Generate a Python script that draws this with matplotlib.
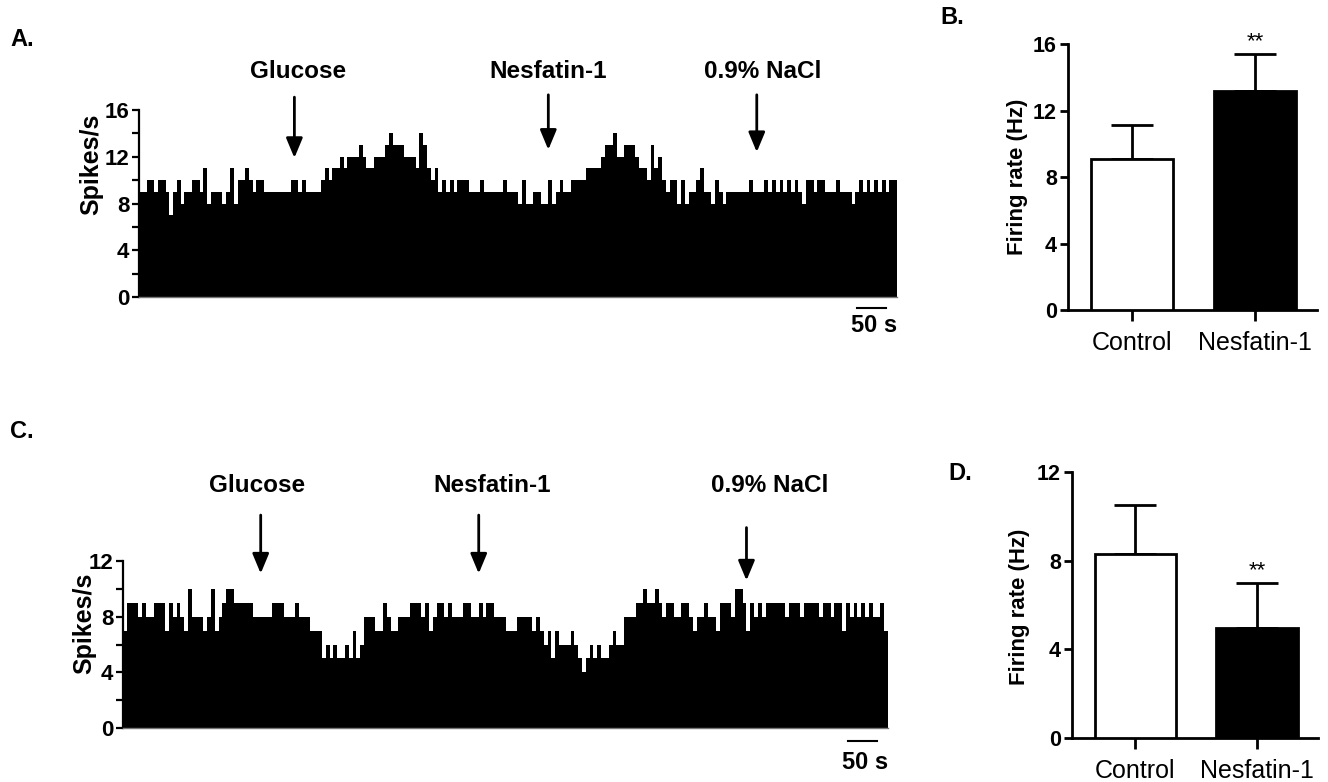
"""Spike-rate histograms (A, C) and mean firing-rate bars (B, D)."""
import numpy as np
import matplotlib
matplotlib.use("Agg")
import matplotlib.pyplot as plt

plt.rcParams["font.family"] = ["Liberation Sans", "DejaVu Sans"]

W, H = 1328, 782

# ---- data ---------------------------------------------------------------
# spikes/s per bin, 200 bins per recording
spikes_a = [
    9, 9, 10, 10, 9, 10, 10, 9, 7, 9,
    10, 8, 9, 9, 10, 10, 9, 11, 8, 9,
    9, 9, 8, 9, 11, 8, 10, 10, 11, 10,
    9, 10, 10, 9, 9, 9, 9, 9, 9, 9,
    10, 10, 9, 10, 9, 9, 9, 9, 10, 11,
    10, 11, 11, 12, 11, 12, 12, 12, 13, 12,
    11, 11, 12, 12, 12, 13, 14, 13, 13, 13,
    12, 12, 12, 11, 14, 13, 11, 10, 11, 9,
    10, 9, 10, 9, 10, 10, 10, 9, 9, 9,
    10, 9, 9, 9, 9, 9, 10, 9, 9, 9,
    8, 10, 8, 8, 9, 9, 8, 8, 10, 8,
    9, 10, 9, 9, 10, 10, 10, 10, 11, 11,
    11, 11, 12, 13, 13, 14, 12, 12, 13, 13,
    13, 12, 11, 11, 10, 13, 11, 12, 10, 9,
    10, 10, 8, 10, 8, 9, 9, 10, 11, 9,
    9, 8, 10, 9, 8, 9, 9, 9, 9, 9,
    9, 10, 9, 9, 9, 10, 9, 10, 9, 10,
    9, 10, 9, 10, 9, 8, 10, 10, 9, 10,
    10, 9, 9, 9, 10, 9, 9, 9, 8, 9,
    10, 9, 10, 9, 10, 9, 10, 9, 10, 10,
]
spikes_c = [
    7, 9, 9, 9, 8, 9, 8, 8, 9, 9,
    9, 7, 9, 8, 9, 8, 7, 10, 8, 8,
    8, 7, 8, 10, 7, 8, 9, 10, 10, 9,
    9, 9, 9, 9, 8, 8, 8, 8, 8, 9,
    9, 9, 8, 8, 8, 9, 8, 8, 8, 7,
    7, 7, 5, 6, 5, 6, 5, 5, 6, 5,
    7, 5, 6, 8, 8, 8, 7, 7, 9, 8,
    7, 7, 8, 8, 8, 9, 9, 9, 8, 9,
    7, 8, 9, 9, 8, 9, 8, 8, 8, 9,
    9, 8, 8, 9, 8, 9, 9, 8, 8, 8,
    7, 7, 7, 8, 8, 8, 8, 7, 8, 7,
    6, 7, 5, 7, 6, 6, 6, 7, 6, 5,
    4, 5, 6, 5, 6, 5, 5, 6, 7, 6,
    6, 8, 8, 8, 9, 9, 10, 9, 9, 10,
    9, 8, 9, 9, 8, 8, 9, 9, 8, 7,
    8, 8, 9, 8, 8, 7, 9, 9, 9, 8,
    10, 10, 9, 7, 9, 8, 9, 8, 9, 9,
    9, 9, 9, 8, 9, 9, 9, 8, 9, 9,
    9, 9, 8, 9, 9, 8, 9, 9, 7, 9,
    8, 9, 8, 9, 8, 9, 8, 8, 9, 7,
]
events = ["Glucose", "Nesfatin-1", "0.9% NaCl"]
event_bins_a = [41, 108, 163]
event_bins_c = [36, 93, 163]

groups = ["Control", "Nesfatin-1"]
rate_b = [9.1, 13.2]
sem_b = [2.0, 2.2]
rate_d = [8.3, 4.95]
sem_d = [2.2, 2.05]
sig = "**"


def px_axes(fig, left, top, right, bottom):
    return fig.add_axes([left / W, 1 - bottom / H, (right - left) / W,
                         (bottom - top) / H])


def trace(ax, spikes, ymax, ev_bins, arrow_y, label_y, label_dx, scale_y):
    n = len(spikes)
    ax.stairs(spikes, np.arange(n + 1), fill=True, color="black", lw=0)
    ax.set_xlim(0, n)
    ax.set_ylim(0, ymax)
    for s in ("top", "right"):
        ax.spines[s].set_visible(False)
    ax.spines["left"].set_linewidth(1.6)
    ax.spines["bottom"].set_linewidth(1.0)
    ax.spines["bottom"].set_color("#777777")
    ax.set_xticks([])
    ax.set_yticks(np.arange(0, ymax + 1, 4))
    ax.set_yticks(np.arange(2, ymax, 4), minor=True)
    ax.tick_params(axis="y", which="both", length=5, width=1.6, pad=2,
                   labelsize=16)
    for t in ax.get_yticklabels():
        t.set_fontweight("bold")
    for name, b, (y0, y1), dx in zip(events, ev_bins, arrow_y, label_dx):
        ax.annotate("", xy=(b, y1), xytext=(b, y0), annotation_clip=False,
                    arrowprops=dict(arrowstyle="-|>,head_width=0.25,head_length=0.6",
                                    mutation_scale=20, lw=2, color="black",
                                    shrinkA=0, shrinkB=0))
        ax.text(b + dx, label_y, name, ha="center", va="center",
                fontsize=17.5, fontweight="bold", clip_on=False)
    # 50 s scale bar
    ax.plot([n - 10.5, n - 3], [scale_y, scale_y], color="black", lw=1.5,
            clip_on=False)
    ax.text(n - 6, scale_y * 2.6, "50 s", ha="center", va="center",
            fontsize=17, fontweight="bold", clip_on=False)


def bars(ax, rates, sems, ymax):
    ax.bar([0, 1], rates, width=0.667, color=["white", "black"],
           edgecolor="black", lw=2, zorder=3)
    ax.errorbar([0, 1], rates, yerr=[[0, 0], sems], fmt="none",
                ecolor="black", elinewidth=2, capsize=15, capthick=2,
                zorder=2)
    ax.set_xlim(-0.52, 1.5)
    ax.set_ylim(0, ymax)
    for s in ("top", "right"):
        ax.spines[s].set_visible(False)
    for s in ("left", "bottom"):
        ax.spines[s].set_linewidth(2)
    ax.set_yticks(np.arange(0, ymax + 1, 4))
    ax.set_xticks([0, 1])
    ax.set_xticklabels(groups, fontsize=18)
    ax.tick_params(axis="y", length=6, width=2, pad=2, labelsize=15.5)
    ax.tick_params(axis="x", length=8, width=2, pad=7)
    for t in ax.get_yticklabels():
        t.set_fontweight("bold")
    ax.text(1, rates[1] + sems[1] + 0.005 * ymax, sig, ha="center",
            va="bottom", fontsize=16)


fig = plt.figure(figsize=(W / 100, H / 100), dpi=100)

ax_a = px_axes(fig, 139, 110, 897, 297)
trace(ax_a, spikes_a, 16, event_bins_a, [(17.1, 11.9), (17.3, 12.6), (17.3, 12.4)],
      19.3, [1, 0, 1.5], -0.95)
ax_c = px_axes(fig, 123, 561, 888, 728)
trace(ax_c, spikes_c, 12, event_bins_c, [(15.3, 11.1), (15.3, 11.1), (14.4, 10.6)],
      17.4, [-1, 3.5, 6], -0.95)

ax_b = px_axes(fig, 1068, 44, 1317, 310)
bars(ax_b, rate_b, sem_b, 16)
ax_d = px_axes(fig, 1072, 472, 1318, 738)
bars(ax_d, rate_d, sem_d, 12)

# axis titles and panel letters, placed in figure pixels
def ftext(x, y, s, **kw):
    fig.text(x / W, 1 - y / H, s, **kw)

ftext(91, 164, "Spikes/s", rotation=90, ha="center", va="center",
      fontsize=18, fontweight="bold")
ftext(84, 623, "Spikes/s", rotation=90, ha="center", va="center",
      fontsize=18, fontweight="bold")
ftext(1018, 177, "Firing rate (Hz)", rotation=90, ha="center", va="center",
      fontsize=16, fontweight="bold")
ftext(1019, 607, "Firing rate (Hz)", rotation=90, ha="center", va="center",
      fontsize=16, fontweight="bold")
for x, y, s in [(10, 39, "A."), (940, 18, "B."), (10, 432, "C."), (948, 473, "D.")]:
    ftext(x, y, s, ha="left", va="center", fontsize=17, fontweight="bold")

fig.savefig("out.png", dpi=100)
